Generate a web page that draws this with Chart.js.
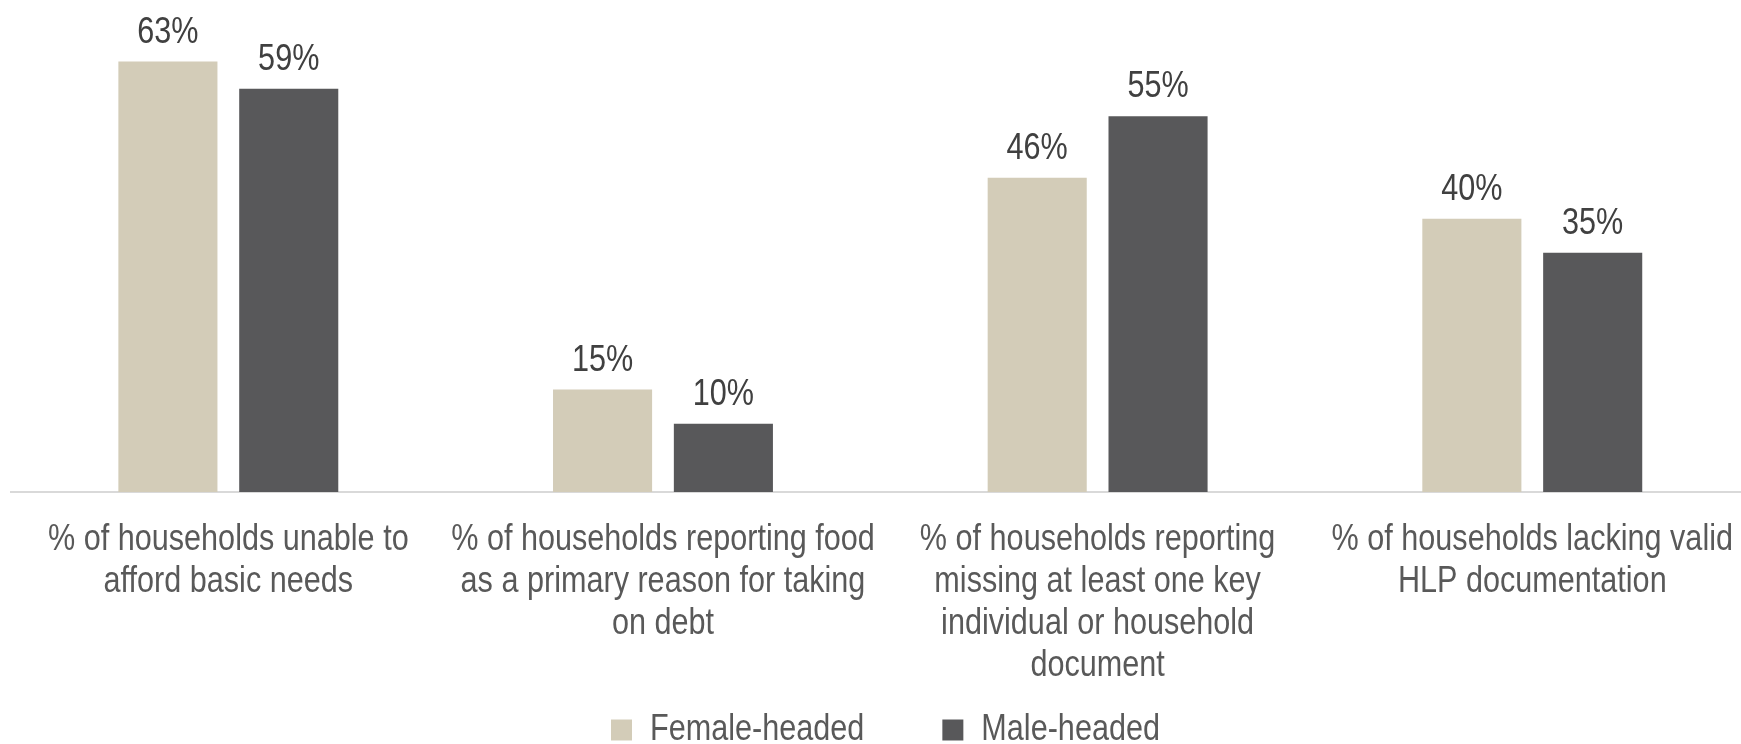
<!DOCTYPE html>
<html lang="en">
<head>
  <meta charset="UTF-8">
  <title>Household indicators by head of household</title>
  <script src="https://cdn.jsdelivr.net/npm/chart.js"></script>
  <style>
    body {
      margin: 0;
      padding: 0;
      background: #fff;
      overflow: hidden;
    }

    /* wider than the window: the plot runs off the right edge */
    .chart-container {
      position: relative;
      width: 1760px;
      height: 758px;
    }
  </style>
</head>
<body>
  <div class="chart-container">
    <canvas id="hhChart"></canvas>
  </div>

  <script>
    const categories = [
      ['% of households unable to', 'afford basic needs'],
      ['% of households reporting food', 'as a primary reason for taking', 'on debt'],
      ['% of households reporting', 'missing at least one key', 'individual or household', 'document'],
      ['% of households lacking valid', 'HLP documentation']
    ];
    const femaleHeaded = [63, 15, 46, 40];
    const maleHeaded = [59, 10, 55, 35];

    const FONT = "'Liberation Sans', Arial, sans-serif";

    // no narrow face installed: squeeze all text horizontally instead
    const NARROW = 0.85;
    const ctx = document.getElementById('hhChart').getContext('2d');
    const baseFillText = ctx.fillText.bind(ctx);
    const baseMeasureText = ctx.measureText.bind(ctx);
    ctx.fillText = function(text, x, y, maxWidth) {
      ctx.save();
      ctx.translate(x, y);
      ctx.scale(NARROW, 1);
      if (maxWidth === undefined) {
        baseFillText(text, 0, 0);
      } else {
        baseFillText(text, 0, 0, maxWidth / NARROW);
      }
      ctx.restore();
    };
    ctx.measureText = function(text) {
      const m = baseMeasureText(text);
      return {
        width: m.width * NARROW,
        actualBoundingBoxAscent: m.actualBoundingBoxAscent,
        actualBoundingBoxDescent: m.actualBoundingBoxDescent,
        actualBoundingBoxLeft: m.actualBoundingBoxLeft * NARROW,
        actualBoundingBoxRight: m.actualBoundingBoxRight * NARROW
      };
    };

    // value labels above each bar
    const barLabels = {
      id: 'barLabels',
      afterDatasetsDraw(chart) {
        const c = chart.ctx;
        c.save();
        c.font = '36px ' + FONT;
        c.fillStyle = '#404040';
        c.textAlign = 'center';
        c.textBaseline = 'alphabetic';
        chart.data.datasets.forEach((ds, i) => {
          chart.getDatasetMeta(i).data.forEach((bar, j) => {
            c.fillText(ds.data[j] + '%', bar.x, bar.y - 19);
          });
        });
        c.restore();
      }
    };

    // the x axis is fitted short so the legend sits close; let its labels
    // still draw below that (the label clip uses the scale bottom)
    const labelRoom = {
      id: 'labelRoom',
      afterLayout(chart) {
        chart.scales.x.bottom = chart.height;
      }
    };

    new Chart(ctx, {
      type: 'bar',
      data: {
        labels: categories,
        datasets: [
          {
            label: 'Female-headed',
            data: femaleHeaded,
            backgroundColor: '#d3ccb8',
            categoryPercentage: 0.556,
            barPercentage: 0.82
          },
          {
            label: 'Male-headed',
            data: maleHeaded,
            backgroundColor: '#58585a',
            categoryPercentage: 0.556,
            barPercentage: 0.82
          }
        ]
      },
      options: {
        responsive: true,
        maintainAspectRatio: false,
        animation: false,
        layout: {
          padding: { left: 11, right: 0, top: 0, bottom: 0 }
        },
        plugins: {
          legend: {
            position: 'bottom',
            labels: {
              color: '#595959',
              font: { family: FONT, size: 36 },
              boxWidth: 21,
              boxHeight: 21,
              padding: 78
            }
          },
          tooltip: { enabled: false }
        },
        scales: {
          x: {
            grid: { display: false, drawTicks: false },
            border: { display: true, color: '#d9d9d9', width: 2 },
            ticks: {
              color: '#595959',
              font: { family: FONT, size: 36, lineHeight: 1.17 },
              maxRotation: 0,
              autoSkip: false,
              padding: 27
            },
            afterFit(scale) {
              scale.height = 142;
            }
          },
          y: {
            display: false,
            min: 0,
            max: 72
          }
        }
      },
      plugins: [barLabels, labelRoom]
    });
  </script>
</body>
</html>
